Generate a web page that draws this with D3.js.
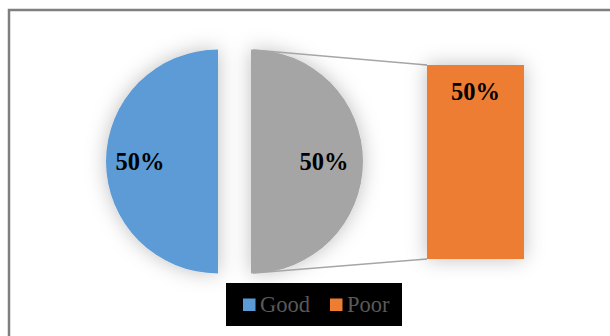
<!DOCTYPE html>
<html><head><meta charset="utf-8">
<script src="https://cdn.jsdelivr.net/npm/d3@7"></script>
<style>html,body{margin:0;padding:0;background:#fff;}svg{display:block;}</style>
</head><body>
<script>
const categories = ["Good", "Poor"];
const values = [50, 50];
const pieSlices = ["Good", "Other"];      // pie part: Good + "Other" (which is split into the bar)
const barCategories = ["Poor"];
const colors = {Good: "#5B9BD5", Other: "#A5A5A5", Poor: "#ED7D31"};

const W = 610, H = 336;
const svg = d3.select("body").append("svg").attr("width", W).attr("height", H);

const defs = svg.append("defs");
const f = defs.append("filter").attr("id", "sh").attr("x", "-40%").attr("y", "-40%").attr("width", "180%").attr("height", "180%");
f.append("feDropShadow").attr("dx", 0).attr("dy", 0).attr("stdDeviation", 10)
  .attr("flood-color", "#000").attr("flood-opacity", 0.25);

// chart border
svg.append("rect").attr("x", 9).attr("y", 10).attr("width", 640).attr("height", 360)
  .attr("fill", "#fff").attr("stroke", "#7f7f7f").attr("stroke-width", 2.5);

const total = d3.sum(values);
const otherTotal = d3.sum(values.filter((v, i) => categories[i] !== "Good"));
const pieData = [
  {name: "Other", value: otherTotal},
  {name: "Good", value: values[categories.indexOf("Good")]}
];
const pie = d3.pie().sort(null).value(d => d.value).startAngle(0).endAngle(2 * Math.PI);
const R = 112;
const arc = d3.arc().innerRadius(0).outerRadius(R);
const cy = 161.5;
const centers = {Good: 218, Other: 251};
const arcs = pie(pieData);

const pieG = svg.append("g");
arcs.forEach(a => {
  pieG.append("path").attr("d", arc(a))
    .attr("transform", `translate(${centers[a.data.name]},${cy})`)
    .attr("fill", colors[a.data.name]).attr("filter", "url(#sh)");
});

// bar
const barX = 427, barW = 97;
const y = d3.scaleLinear().domain([0, otherTotal]).range([259, 65]);
const barVals = barCategories.map(c => values[categories.indexOf(c)]);
let acc = 0;
const barData = barCategories.map((c, i) => { const d = {name: c, y0: acc, y1: acc + barVals[i], value: barVals[i]}; acc += barVals[i]; return d; });

// connector lines
const oc = centers.Other;
svg.append("line").attr("x1", oc + 2).attr("y1", cy - R + 0.5).attr("x2", barX).attr("y2", y(otherTotal))
  .attr("stroke", "#a6a6a6").attr("stroke-width", 1.5);
svg.append("line").attr("x1", oc + 2).attr("y1", cy + R - 0.5).attr("x2", barX).attr("y2", y(0))
  .attr("stroke", "#a6a6a6").attr("stroke-width", 1.5);

svg.selectAll("rect.bar").data(barData).enter().append("rect").attr("class", "bar")
  .attr("x", barX).attr("width", barW)
  .attr("y", d => y(d.y1)).attr("height", d => y(d.y0) - y(d.y1))
  .attr("fill", d => colors[d.name]).attr("filter", "url(#sh)");

// labels
const fmt = v => Math.round(v / total * 100) + "%";
const lab = {font: "'Liberation Serif', 'Times New Roman', Times, serif", size: 24.5};
const labels = [
  {x: 140, y: 170, t: fmt(values[0])},
  {x: 324, y: 170, t: fmt(otherTotal)},
  {x: barX + barW / 2, y: y(barData[0].y1) + 35, t: fmt(barData[0].value)}
];
svg.selectAll("text.lab").data(labels).enter().append("text").attr("class", "lab")
  .attr("x", d => d.x).attr("y", d => d.y).attr("text-anchor", "middle")
  .style("font-family", lab.font).attr("font-size", lab.size).attr("font-weight", "bold")
  .attr("fill", "#000").text(d => d.t);

// legend
const lg = svg.append("g");
lg.append("rect").attr("x", 226).attr("y", 283).attr("width", 176).attr("height", 43).attr("fill", "#000");
const legItems = [{name: "Good", x: 243}, {name: "Poor", x: 330}];
legItems.forEach(it => {
  lg.append("rect").attr("x", it.x).attr("y", 298.5).attr("width", 12.5).attr("height", 12.5).attr("fill", colors[it.name]);
  lg.append("text").attr("x", it.x + 17).attr("y", 312).style("font-family", lab.font).attr("font-size", 22.5)
    .attr("fill", "#595959").text(it.name);
});
</script>
</body></html>
